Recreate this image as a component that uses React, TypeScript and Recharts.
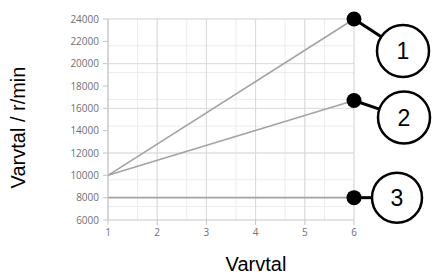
import { CartesianGrid, Label, Line, LineChart, XAxis, YAxis } from 'recharts';

const xValues = [1, 6];
const series1 = [10000, 24000];
const series2 = [10000, 16700];
const series3 = [8000, 8000];
const xTicks = [1, 2, 3, 4, 5, 6];
const yTicks = [6000, 8000, 10000, 12000, 14000, 16000, 18000, 20000, 22000, 24000];

const minorX = Array.from({ length: 26 }, (_, i) => 1 + i * 0.2);
const minorY = Array.from({ length: 46 }, (_, i) => 6000 + i * 400);

const data = xValues.map((x, i) => ({ x, s1: series1[i], s2: series2[i], s3: series3[i] }));

const lineColor = '#a3a3a3';
const tickStyle = { fontSize: 10, fill: '#6f6f6f', fontFamily: 'Open Sans' };

// black end dot with a numbered callout bubble
function callout(label: string, dx: number, dy: number, r: number) {
  return (props: any) => {
    const { cx, cy, index } = props;
    if (index !== data.length - 1) return <g key={`d-${index}`} />;
    const ox = cx + dx;
    const oy = cy + dy;
    const len = Math.hypot(dx, dy);
    return (
      <g key={`d-${index}`}>
        <line x1={cx} y1={cy} x2={ox - (dx / len) * r} y2={oy - (dy / len) * r} stroke="#000" strokeWidth={3} />
        <circle cx={cx} cy={cy} r={7.5} fill="#000" />
        <circle cx={ox} cy={oy} r={r} fill="#fff" stroke="#000" strokeWidth={2.5} />
        <text
          x={ox}
          y={oy}
          textAnchor="middle"
          dominantBaseline="central"
          fontFamily="Liberation Sans, Arial, sans-serif"
          fontSize={23}
          fill="#000"
        >
          {label}
        </text>
      </g>
    );
  };
}

export default function App() {
  return (
    <div style={{ position: 'absolute', left: 0, top: 0, width: 434, height: 278, background: '#fff' }}>
      <LineChart width={434} height={278} data={data} margin={{ top: 19, right: 80, bottom: 28, left: 0 }}>
        <CartesianGrid stroke="#ececec" horizontalValues={minorY} verticalValues={minorX} />
        <CartesianGrid stroke="#d9d9d9" horizontalValues={yTicks} verticalValues={xTicks} />
        <XAxis
          dataKey="x"
          type="number"
          domain={[1, 6]}
          ticks={xTicks}
          tick={tickStyle}
          tickSize={5}
          tickMargin={4}
          stroke="#c6c6c6"
          height={30}
        >
          <Label
            content={({ viewBox }: any) => (
              <text
                x={viewBox.x + viewBox.width / 2 + 25}
                y={viewBox.y + 51}
                textAnchor="middle"
                fontFamily="Liberation Sans, Arial, sans-serif"
                fontSize={20}
                fill="#000"
              >
                Varvtal
              </text>
            )}
          />
        </XAxis>
        <YAxis
          type="number"
          domain={[6000, 24000]}
          ticks={yTicks}
          width={108}
          tick={tickStyle}
          tickSize={5}
          tickMargin={4}
          stroke="#c6c6c6"
        >
          <Label
            content={({ viewBox }: any) => {
              const x = viewBox.x + 25;
              const y = viewBox.y + viewBox.height / 2 + 8;
              return (
                <text
                  x={x}
                  y={y}
                  transform={`rotate(-90 ${x} ${y})`}
                  textAnchor="middle"
                  fontFamily="Liberation Sans, Arial, sans-serif"
                  fontSize={20}
                  fill="#000"
                >
                  Varvtal / r/min
                </text>
              );
            }}
          />
        </YAxis>
        <Line dataKey="s3" stroke={lineColor} strokeWidth={1.6} dot={callout('3', 43, 0, 25)} activeDot={false} isAnimationActive={false} />
        <Line dataKey="s2" stroke={lineColor} strokeWidth={1.6} dot={callout('2', 50, 17, 26)} activeDot={false} isAnimationActive={false} />
        <Line dataKey="s1" stroke={lineColor} strokeWidth={1.6} dot={callout('1', 49, 32, 26)} activeDot={false} isAnimationActive={false} />
      </LineChart>
    </div>
  );
}
